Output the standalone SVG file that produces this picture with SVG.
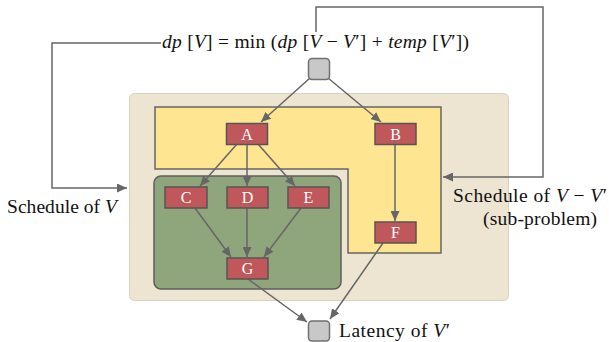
<svg xmlns="http://www.w3.org/2000/svg" width="609" height="342" viewBox="0 0 609 342">
<defs>
<marker id="arr" markerUnits="userSpaceOnUse" markerWidth="11" markerHeight="9" refX="10" refY="4.5" orient="auto">
<path d="M0,0 L10,4.5 L0,9 z" fill="#666"/>
</marker>
</defs>
<g id="background">
<rect x="129.5" y="93.5" width="379" height="207" rx="5" fill="#ede4d1" stroke="#d9d2c3" stroke-width="1"/>
</g>
<g id="subproblem">
<path d="M155,107 H441 V253 H348 V169 H155 Z" fill="#fee592" stroke="#666" stroke-width="1.5"/>
</g>
<g id="cluster">
<rect x="154" y="176" width="187" height="113" rx="7" fill="#8fa57b" stroke="#5e5e5e" stroke-width="1.5"/>
</g>
<g id="connectors" fill="none" stroke="#666" stroke-width="1.5" marker-end="url(#arr)">
<path d="M161,43 H52 V188 H127"/>
<path d="M316,32 V7 H543 V177 H443"/>
<path d="M310,78 L261,122"/>
<path d="M328,78 L381,122"/>
<path d="M237,144 L200,186"/>
<path d="M247,144 L247,186"/>
<path d="M258,144 L295,186"/>
<path d="M195,208 L231,257"/>
<path d="M247,208 L247,257"/>
<path d="M301,208 L264,257"/>
<path d="M395,144 L395,221"/>
<path d="M248,279 L307,322"/>
<path d="M383,243 L330,319"/>
</g>
<g id="top"><rect x="308.5" y="58.5" width="21" height="21" rx="3.5" fill="#c8c8c8" stroke="#707070" stroke-width="1.5"/></g>
<g id="bottom"><rect x="308.5" y="321" width="21" height="20" rx="3.5" fill="#c8c8c8" stroke="#707070" stroke-width="1.5"/></g>
<g id="A"><rect x="226.5" y="123.5" width="41" height="21" fill="#c0585b" stroke="#555" stroke-width="1.5"/><text x="247" y="139.5" font-family="Liberation Serif" font-size="16" fill="#fff" text-anchor="middle">A</text></g>
<g id="B"><rect x="375" y="123.5" width="41" height="21" fill="#c0585b" stroke="#555" stroke-width="1.5"/><text x="395.5" y="139.5" font-family="Liberation Serif" font-size="16" fill="#fff" text-anchor="middle">B</text></g>
<g id="C"><rect x="165" y="187" width="42" height="21" fill="#c0585b" stroke="#555" stroke-width="1.5"/><text x="186" y="203" font-family="Liberation Serif" font-size="16" fill="#fff" text-anchor="middle">C</text></g>
<g id="D"><rect x="227" y="187" width="41" height="21" fill="#c0585b" stroke="#555" stroke-width="1.5"/><text x="247.5" y="203" font-family="Liberation Serif" font-size="16" fill="#fff" text-anchor="middle">D</text></g>
<g id="E"><rect x="288" y="187" width="41" height="21" fill="#c0585b" stroke="#555" stroke-width="1.5"/><text x="308.5" y="203" font-family="Liberation Serif" font-size="16" fill="#fff" text-anchor="middle">E</text></g>
<g id="F"><rect x="375" y="222" width="41" height="21" fill="#c0585b" stroke="#555" stroke-width="1.5"/><text x="395.5" y="238" font-family="Liberation Serif" font-size="16" fill="#fff" text-anchor="middle">F</text></g>
<g id="G"><rect x="227" y="258" width="41" height="21" fill="#c0585b" stroke="#555" stroke-width="1.5"/><text x="247.5" y="274" font-family="Liberation Serif" font-size="16" fill="#fff" text-anchor="middle">G</text></g>
<g id="labels" fill="#111">
<text x="162" y="48" font-family="Liberation Serif" font-size="19.5" textLength="307" lengthAdjust="spacing"><tspan font-style="italic">dp</tspan> [<tspan font-style="italic">V</tspan>] = min (<tspan font-style="italic">dp</tspan> [<tspan font-style="italic">V</tspan> − <tspan font-style="italic">V</tspan>′] + <tspan font-style="italic">temp</tspan> [<tspan font-style="italic">V</tspan>′])</text>
<text x="7" y="213" font-family="Liberation Serif" font-size="19.5" textLength="110" lengthAdjust="spacing">Schedule of <tspan font-style="italic">V</tspan></text>
<text x="453" y="202" font-family="Liberation Serif" font-size="19.5" textLength="154" lengthAdjust="spacing">Schedule of <tspan font-style="italic">V</tspan> − <tspan font-style="italic">V</tspan>′</text>
<text x="483" y="225" font-family="Liberation Serif" font-size="19.5" textLength="114" lengthAdjust="spacing">(sub-problem)</text>
<text x="339" y="337" font-family="Liberation Serif" font-size="19.5" textLength="111" lengthAdjust="spacing">Latency of <tspan font-style="italic">V</tspan>′</text>
</g>
</svg>
